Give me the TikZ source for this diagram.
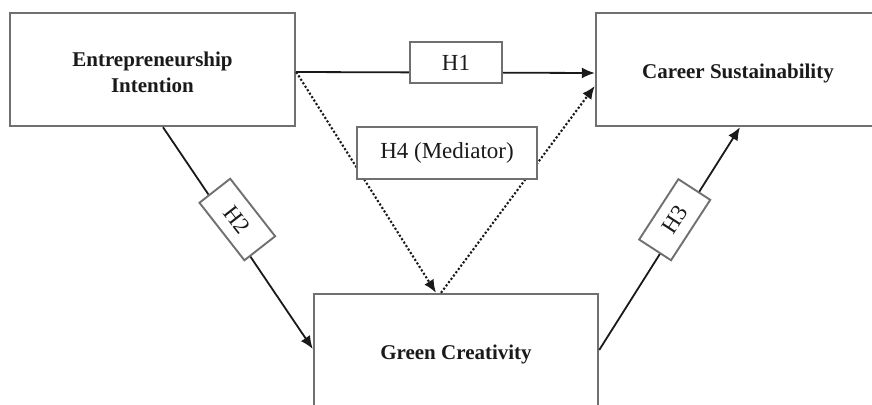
\documentclass[tikz,border=0pt]{standalone}
\usepackage{fontspec}
\setmainfont{Liberation Serif}
\usetikzlibrary{arrows.meta}
\definecolor{boxgray}{HTML}{707070}
\definecolor{linek}{HTML}{1A1A1A}
\begin{document}
\begin{tikzpicture}[x=1pt,y=-1pt,
  box/.style={draw=boxgray,line width=2.4pt,fill=white,inner sep=0pt},
  boxtext/.style={align=center,text=linek,font=\fontsize{21}{26.5}\selectfont\bfseries,inner sep=0pt},
  hbox/.style={draw=boxgray,line width=1.9pt,fill=white,text=linek,
    font=\fontsize{23}{26}\selectfont,inner sep=0pt},
  arr/.style={draw=linek,line width=1.8pt,-{Latex[length=13pt,width=11pt]}},
  dotarr/.style={draw=linek,line width=2.1pt,dotted,-{Latex[length=13pt,width=11pt]}}]
\useasboundingbox[fill=white] (0,0) rectangle (872,404);
% main boxes
\node[box,minimum width=285pt,minimum height=113pt] (EI) at (152.5,69.5) {};
\node[boxtext] (EIt) at ([yshift=-3pt]EI.center) {Entrepreneurship\\Intention};
\node[box,minimum width=284pt,minimum height=113pt] (CS) at (738,69.5) {};
\node[boxtext] (CSt) at ([yshift=-4pt]CS.center) {Career Sustainability};
\node[box,minimum width=284pt,minimum height=118pt] (GC) at (456,353) {};
\node[boxtext] (GCt) at ([yshift=-1pt]GC.center) {Green Creativity};
% connectors
\draw[arr] ([yshift=-2.5pt]EI.east) -- ([yshift=-3.5pt]CS.west);
\draw[dotarr] ([yshift=-2.5pt]EI.east) -- ([xshift=-20pt]GC.north);
\draw[dotarr] ([xshift=-15pt]GC.north) -- ([yshift=-16.5pt]CS.west);
\draw[arr] ([xshift=10.5pt]EI.south) -- ([yshift=4pt]GC.west);
\draw[arr] ([yshift=3pt]GC.east) -- ([xshift=2pt]CS.south);
% hypothesis labels
\node[hbox,minimum width=92pt,minimum height=41pt] (H1) at (456,62.5) {H1};
\node[hbox,minimum width=180pt,minimum height=52pt] (H4) at (447,153) {H4 (Mediator)};
\node[hbox,minimum width=73pt,minimum height=39pt,rotate=-52] (H2) at (237.3,219.5) {H2};
\node[hbox,minimum width=72pt,minimum height=38pt,rotate=57] (H3) at (674.7,219.7) {H3};
\end{tikzpicture}
\end{document}
